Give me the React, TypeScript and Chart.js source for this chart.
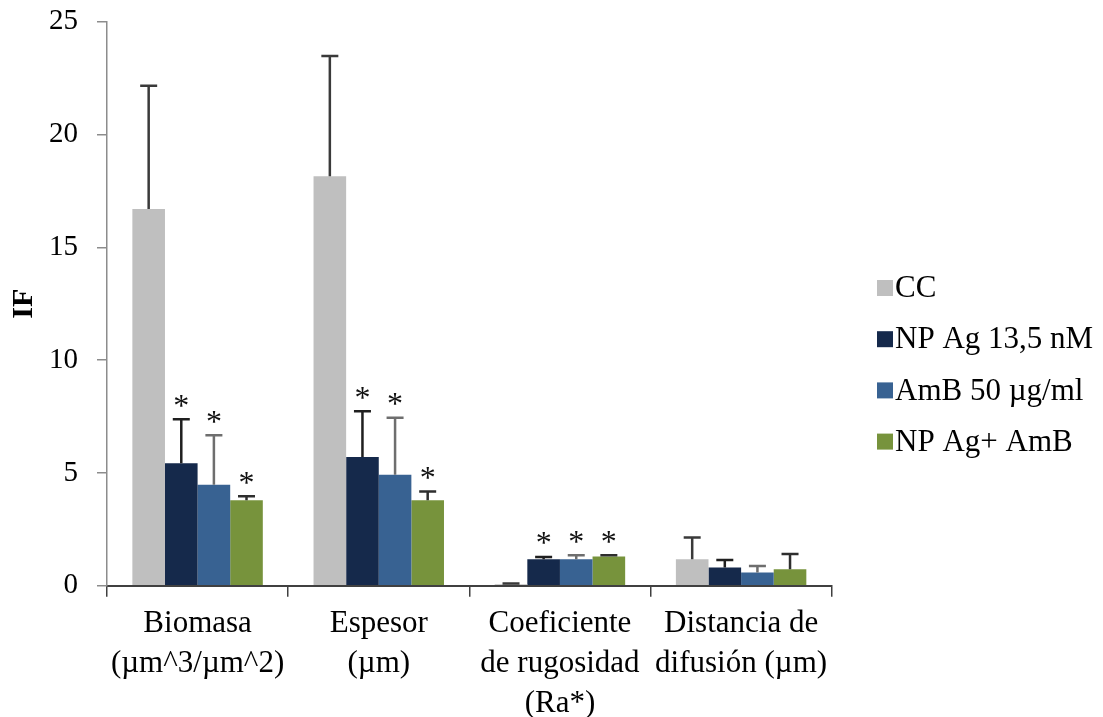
import { useEffect, useRef } from 'react';
import { Chart, registerables } from 'chart.js';
Chart.register(...registerables);

const FONT = '"Liberation Serif", "Times New Roman", serif';

const categories = [
  ['Biomasa', '(µm^3/µm^2)'],
  ['Espesor', '(µm)'],
  ['Coeficiente', 'de rugosidad', '(Ra*)'],
  ['Distancia de', 'difusión (µm)'],
];
const seriesNames = ['CC', 'NP Ag 13,5 nM', 'AmB 50 µg/ml', 'NP Ag+ AmB'];
const seriesColors = ['#BFBFBF', '#15294B', '#386292', '#77933C'];
const errorColors = ['#3a3a3a', '#1f1f1f', '#6e6e6e', '#2e2e2e'];

const ccValues = [16.7, 18.15, 0.06, 1.17];
const ccErrors = [5.46, 5.33, 0.04, 0.97];
const npAgValues = [5.43, 5.7, 1.17, 0.81];
const npAgErrors = [1.95, 2.03, 0.1, 0.33];
const amBValues = [4.48, 4.92, 1.17, 0.59];
const amBErrors = [2.19, 2.53, 0.18, 0.28];
const comboValues = [3.79, 3.79, 1.29, 0.73];
const comboErrors = [0.17, 0.39, 0.06, 0.67];

const ccSignificant = [false, false, false, false];
const npAgSignificant = [true, true, true, false];
const amBSignificant = [true, true, true, false];
const comboSignificant = [true, true, true, false];

const yTicks = [0, 5, 10, 15, 20, 25];

const seriesValues = [ccValues, npAgValues, amBValues, comboValues];
const seriesErrors = [ccErrors, npAgErrors, amBErrors, comboErrors];
const seriesSignificant = [ccSignificant, npAgSignificant, amBSignificant, comboSignificant];

const errorBarPlugin = {
  id: 'errorBars',
  afterDatasetsDraw(chart: any) {
    const ctx = chart.ctx;
    const y = chart.scales.y;
    chart.data.datasets.forEach((ds: any, di: number) => {
      const meta = chart.getDatasetMeta(di);
      meta.data.forEach((bar: any, i: number) => {
        const v = seriesValues[di][i];
        const e = seriesErrors[di][i];
        const base = y.getPixelForValue(v);
        const top = y.getPixelForValue(v + e);
        ctx.save();
        ctx.strokeStyle = errorColors[di];
        ctx.lineWidth = 2.5;
        ctx.beginPath();
        ctx.moveTo(bar.x, base);
        ctx.lineTo(bar.x, top);
        ctx.moveTo(bar.x - 8.5, top);
        ctx.lineTo(bar.x + 8.5, top);
        ctx.stroke();
        if (seriesSignificant[di][i]) {
          ctx.fillStyle = '#111';
          ctx.font = `32px ${FONT}`;
          ctx.textAlign = 'center';
          ctx.textBaseline = 'middle';
          ctx.fillText('*', bar.x, top - 17 + 5);
        }
        ctx.restore();
      });
    });
  },
};

const legendPlugin = {
  id: 'sideLegend',
  afterDraw(chart: any) {
    const ctx = chart.ctx;
    const x0 = 877;
    const y0 = 288;
    const step = 51.2;
    ctx.save();
    chart.data.datasets.forEach((ds: any, i: number) => {
      const cy = y0 + i * step;
      ctx.fillStyle = ds.backgroundColor;
      ctx.fillRect(x0, cy - 8, 16, 16);
      ctx.fillStyle = '#000';
      ctx.font = `31px ${FONT}`;
      ctx.textAlign = 'left';
      ctx.textBaseline = 'middle';
      ctx.fillText(ds.label, x0 + 18, cy + 1);
    });
    ctx.restore();
  },
};

export default function App() {
  const ref = useRef<HTMLCanvasElement>(null);
  useEffect(() => {
    const chart = new Chart(ref.current as HTMLCanvasElement, {
      type: 'bar',
      data: {
        labels: categories as any,
        datasets: seriesNames.map((name, i) => ({
          label: name,
          data: seriesValues[i],
          backgroundColor: seriesColors[i],
          borderWidth: 0,
          barPercentage: 1,
          categoryPercentage: 0.72,
        })),
      },
      options: {
        responsive: false,
        animation: false,
        devicePixelRatio: 1,
        layout: { padding: { top: 21.7, right: 271.3, bottom: 0, left: 0 } },
        plugins: { legend: { display: false }, tooltip: { enabled: false } },
        scales: {
          x: {
            grid: { offset: true, drawOnChartArea: false, drawTicks: true, tickLength: 11, color: '#404040', lineWidth: 1.5 },
            border: { color: '#404040', width: 2 },
            ticks: {
              color: '#000',
              font: { family: FONT, size: 31, lineHeight: 1.29 },
              padding: 7,
              maxRotation: 0,
              minRotation: 0,
              autoSkip: false,
            },
            afterFit: (s: any) => {
              s.height = 131.3;
            },
          },
          y: {
            min: 0,
            max: 25,
            afterBuildTicks: (s: any) => {
              s.ticks = yTicks.map((v) => ({ value: v }));
            },
            ticks: { color: '#000', font: { family: FONT, size: 29 }, padding: 19 },
            grid: { drawOnChartArea: false, drawTicks: true, tickLength: 10, color: '#8c8c8c', lineWidth: 1.5 },
            border: { color: '#8c8c8c', width: 1.5 },
            title: {
              display: true,
              text: 'IF',
              color: '#000',
              font: { family: FONT, size: 30, weight: 'bold' },
              padding: { top: 6, bottom: 0 },
            },
            afterFit: (s: any) => {
              s.width = 107;
              s.paddingTop = 0;
              s.paddingBottom = 0;
            },
          },
        },
      },
      plugins: [errorBarPlugin, legendPlugin],
    } as any);
    return () => chart.destroy();
  }, []);
  return (
    <div style={{ position: 'fixed', left: 0, top: 0, width: 1103, height: 717, background: '#fff' }}>
      <canvas ref={ref} width={1103} height={717} style={{ display: 'block', width: 1103, height: 717 }} />
    </div>
  );
}
